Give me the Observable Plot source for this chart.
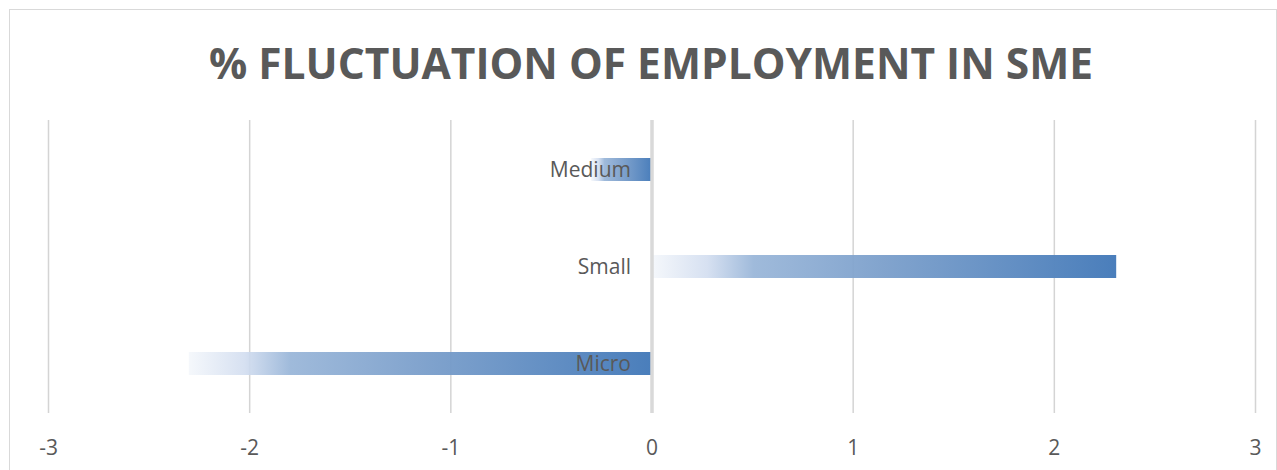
<!DOCTYPE html>
<html><head><meta charset="utf-8">
<script src="https://cdn.jsdelivr.net/npm/d3@7"></script>
<script src="https://cdn.jsdelivr.net/npm/@observablehq/plot@0.6"></script>
<style>
body{margin:0;background:#fff;}
#wrap{position:relative;width:1277px;height:470px;overflow:hidden;background:#fff;}
#frame{position:absolute;left:9px;top:9px;width:1268px;height:490px;border:1px solid #d9d9d9;box-sizing:border-box;}
#title{position:absolute;left:0;top:37px;width:1302px;text-align:center;font-family:"Open Sans",sans-serif;font-weight:700;font-size:42.5px;line-height:52px;color:#595959;white-space:nowrap;}
#chart{position:absolute;left:0;top:0;}
</style>
</head><body>
<div id="wrap"><div id="frame"></div><div id="chart"></div><div id="title">% FLUCTUATION OF EMPLOYMENT IN SME</div></div>
<script>
const categories = ["Medium", "Small", "Micro"];
const values = [-0.3, 2.31, -2.3];
const tickValues = [-3, -2, -1, 0, 1, 2, 3];

const data = categories.map((c, i) => ({category: c, value: values[i]}));

const chart = Plot.plot({
  width: 1277, height: 470,
  marginTop: 120, marginBottom: 57, marginLeft: 48, marginRight: 22,
  style: {fontFamily: "'Open Sans', sans-serif", background: "transparent", color: "#595959"},
  x: {domain: [-3, 3], ticks: tickValues, tickFormat: d => String(d), label: null},
  y: {domain: categories, padding: 0, axis: null},
  marks: [
    Plot.ruleX(tickValues.filter(t => t !== 0), {stroke: "#d4d4d4", strokeWidth: 1.5, strokeOpacity: 1}),
    Plot.barX(data, {x: "value", y: "category", fill: "url(#barGrad)", insetTop: 37, insetBottom: 37}),
    Plot.ruleX([0], {stroke: "#d9d9d9", strokeWidth: 3.5, strokeOpacity: 1}),
    Plot.text(data, {x: 0, y: "category", text: "category", textAnchor: "end", dx: -21, fill: "#595959", fontSize: 21}),
    Plot.axisX({ticks: tickValues, tickFormat: d => String(d), tickSize: 0, tickPadding: 27, fontSize: 21, label: null, fill: "#595959"})
  ]
});

const defs = d3.select(chart).insert("defs", ":first-child");
const grad = defs.append("linearGradient").attr("id", "barGrad")
  .attr("x1", "0").attr("x2", "1").attr("y1", "0").attr("y2", "0");
[[0, "#f4f7fb", 0.9], [0.12, "#d3def0", 0.92], [0.22, "#98b5d8", 0.93], [0.5, "#7b9fcb", 0.95], [1, "#4a7ebb", 1]]
  .forEach(([o, c, a]) => grad.append("stop").attr("offset", o).attr("stop-color", c).attr("stop-opacity", a));

document.getElementById("chart").appendChild(chart);
</script>
</body></html>
